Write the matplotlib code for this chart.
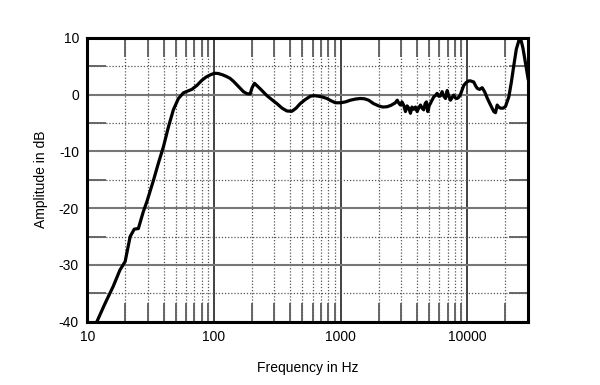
import numpy as np
import matplotlib
matplotlib.use("Agg")
import matplotlib.pyplot as plt
from matplotlib.ticker import FixedLocator, NullFormatter

plt.rcParams['font.family'] = ['Liberation Sans', 'DejaVu Sans']
plt.rcParams['axes.unicode_minus'] = False

# frequency response (Hz, dB)
freq = [11.9, 13.8, 16.0, 18.1, 19.9, 21.8, 23.5, 25.3, 27.7, 29.5, 33.3, 36.4,
        39.9, 43.7, 47.8, 52.4, 57.4, 62, 66.8, 73.3, 80.2, 87, 93.3, 101, 108,
        116, 125, 134, 143, 155, 171, 182, 193, 200, 209, 220, 232, 262, 290,
        314, 345, 377, 413, 445, 480, 525, 576, 620, 670, 720, 781, 840, 909,
        1000, 1090, 1194, 1310, 1432, 1545, 1665, 1820, 1995, 2150, 2326, 2500,
        2706, 2800, 2877, 2965, 3050, 3150, 3250, 3350, 3450, 3560, 3660, 3780,
        3900, 4020, 4150, 4270, 4400, 4530, 4650, 4760, 4880, 5000, 5120, 5280,
        5440, 5600, 5780, 5950, 6140, 6330, 6530, 6730, 6940, 7150, 7370, 7600,
        7820, 8050, 8310, 8550, 8830, 9100, 9380, 9800, 10270, 10600, 11250,
        11600, 11970, 12500, 13110, 13700, 14360, 15000, 15730, 16200, 16700,
        17230, 17700, 18300, 19200, 20040, 20700, 21290, 22300, 23330, 24400,
        25550, 26100, 26690, 27500, 28340, 29300, 30300]
level = [-40.0, -36.8, -33.8, -30.9, -29.4, -25.0, -23.7, -23.6, -20.6, -18.9, -15.1, -12.1,
         -9.2, -5.7, -2.7, -0.7, 0.3, 0.6, 0.9, 1.6, 2.5, 3.1, 3.45, 3.75, 3.7,
         3.5, 3.2, 2.85, 2.3, 1.5, 0.5, 0.15, 0.1, 1.2, 1.97, 1.5, 1.0, -0.2, -1.0,
         -1.6, -2.4, -2.9, -2.95, -2.4, -1.6, -0.9, -0.3, -0.2, -0.3, -0.45, -0.7, -1.1, -1.45,
         -1.45, -1.3, -1.0, -0.8, -0.7, -0.75, -1.0, -1.6, -2.0, -2.2, -2.15, -1.9,
         -1.45, -1.0, -1.5, -1.85, -1.3, -1.9, -3.0, -2.0, -2.4, -3.3, -2.2, -2.6,
         -2.2, -3.0, -2.3, -1.85, -2.4, -2.7, -1.6, -1.3, -3.0, -2.0, -1.55, -1.0,
         -0.4, -0.2, 0.2, -0.3, -0.25, 0.5, -0.3, -0.7, 0.7, -0.3, -1.0, -0.5,
         -0.1, -0.6, -0.7, -0.5, 0.0, 0.8, 1.6, 2.1, 2.4, 2.4, 2.2,
         1.6, 1.1, 0.9, 1.2, 0.5, -0.6, -1.5, -2.4, -3.0, -3.2,
         -1.85, -2.2, -2.4, -2.4, -2.1, -1.2, -0.4, 2.2, 5.2, 8.0,
         9.5, 9.7, 9.4, 8.2, 6.5, 4.5, 2.6]

x_major = [10, 100, 1000, 10000]
x_labels = ['10', '100', '1000', '10000']
x_minor = [m * d for d in [10, 100, 1000] for m in range(2, 10)] + [20000]
y_major = [-40, -30, -20, -10, 0, 10]
y_minor = [-35, -25, -15, -5, 5]

fig = plt.figure(figsize=(6, 3.85), dpi=100)
ax = fig.add_axes([0.1455, 0.1644, 0.734, 0.7376])
ax.set_xscale('log')
ax.set_xlim(10, 30000)
ax.set_ylim(-40, 10)

ax.xaxis.set_major_locator(FixedLocator(x_major))
ax.set_xticklabels(x_labels)
ax.xaxis.set_minor_locator(FixedLocator(x_minor))
ax.xaxis.set_minor_formatter(NullFormatter())
ax.yaxis.set_major_locator(FixedLocator(y_major))
ax.yaxis.set_minor_locator(FixedLocator(y_minor))

ax.grid(which='major', axis='x', color='#333333', lw=1.3, ls='-')
ax.grid(which='major', axis='y', color='#777777', lw=1.5, ls='-')
ax.grid(which='minor', color='#555555', lw=0.9, ls=(0, (1, 1.5)))

ax.tick_params(which='major', length=0, labelsize=10, pad=6)
ax.tick_params(which='minor', direction='in', length=13.5, width=1.4,
               color='#666666', top=True, right=True)

for s in ax.spines.values():
    s.set_linewidth(2.2)
    s.set_color('black')

ax.plot(freq, level, color='black', lw=2.3, solid_joinstyle='round',
        solid_capstyle='round', clip_on=True)

ax.set_xlabel('Frequency in Hz', fontsize=10, labelpad=12)
ax.set_ylabel('Amplitude in dB', fontsize=10, labelpad=8)

fig.savefig('out.png', dpi=100)
